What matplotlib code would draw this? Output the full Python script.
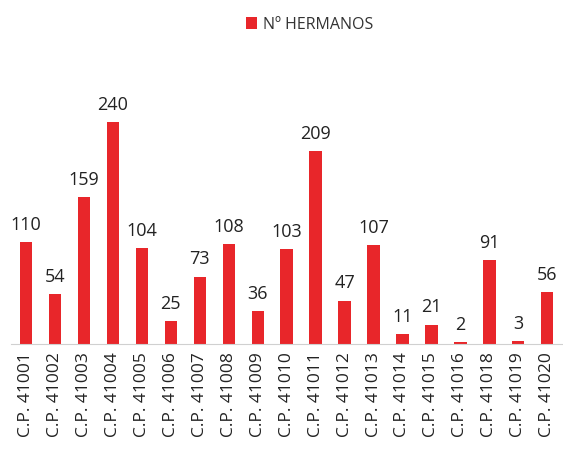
import matplotlib.pyplot as plt

codigos = ['41001', '41002', '41003', '41004', '41005', '41006', '41007',
           '41008', '41009', '41010', '41011', '41012', '41013', '41014',
           '41015', '41016', '41018', '41019', '41020']
hermanos = [110, 54, 159, 240, 104, 25, 73, 108, 36, 103, 209, 47, 107,
            11, 21, 2, 91, 3, 56]

etiquetas = ['C.P. ' + c for c in codigos]

plt.rcParams['font.family'] = ['Open Sans', 'DejaVu Sans']

fig = plt.figure(figsize=(5.63, 4.51), dpi=100)
ax = fig.add_axes([0.02, 0.237, 0.978, 0.615])

x = list(range(len(codigos)))
bars = ax.bar(x, hermanos, width=0.42, color='#e8262a', label='Nº HERMANOS')

for bar in bars:
    h = bar.get_height()
    ax.text(bar.get_x() + bar.get_width() / 2, h + 9, f'{h}',
            ha='center', va='bottom', fontsize=13, color='#222222')

ax.set_xlim(-0.5, len(codigos) - 0.5)
ax.set_ylim(0, 300)
ax.set_yticks([])
ax.set_xticks(x)
ax.set_xticklabels(etiquetas, rotation=90, fontsize=12.5, color='#222222')
ax.tick_params(axis='x', length=0, pad=6)

for s in ['top', 'right', 'left']:
    ax.spines[s].set_visible(False)
ax.spines['bottom'].set_color('#d0d0d0')

fig.legend(loc='upper center', bbox_to_anchor=(0.55, 0.995), frameon=False,
           fontsize=11.5, handlelength=0.7, handleheight=0.7, handletextpad=0.4,
           labelcolor='#333333')

fig.savefig('out.png', dpi=100)
